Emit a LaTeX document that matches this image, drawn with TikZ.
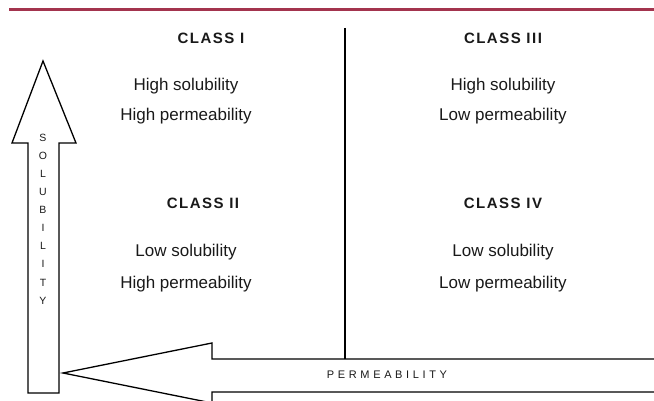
\documentclass[tikz,border=0pt]{standalone}
\usepackage{fontspec}
\setmainfont{Liberation Sans}

\definecolor{rulered}{RGB}{163,52,78}
\definecolor{ink}{RGB}{25,25,25}

\begin{document}
\begin{tikzpicture}[
		x=1pt,y=-1pt,
		every node/.style={inner sep=0pt,text=ink},
		classhead/.style={anchor=base,font=\fontsize{15}{17}\selectfont\bfseries\addfontfeature{LetterSpace=10}},
		prop/.style={anchor=base,font=\fontsize{17}{19}\selectfont},
		axislabel/.style={font=\fontsize{10.5}{18.1}\selectfont,align=center},
		bigarrow/.style={draw=black,line width=1.3pt,fill=white}
		]
		\useasboundingbox (0,0) rectangle (654,401);
		\clip (0,0) rectangle (654,401);
		
		% rule on top
		\draw[rulered,line width=3pt] (9,10) -- (654,10);
		
		% line between the two columns
		\draw[line width=1.2pt] (345,28) -- (345,359);
		
		% solubility arrow, pointing up
		\draw[bigarrow] (28,393) -- (28,143) -- (12,143) -- (43,61) -- (76,143)
		-- (59,143) -- (59,393) -- cycle;
		\node[axislabel] (sol) at (43,219) {S\\O\\L\\U\\B\\I\\L\\I\\T\\Y};
		
		% permeability arrow, pointing left
		\draw[bigarrow] (660,359) -- (212,359) -- (212,343) -- (63,373) -- (212,403)
		-- (212,392) -- (660,392);
		\node[font=\fontsize{11}{13}\selectfont\addfontfeature{LetterSpace=33}] (perm) at (387,375) {PERMEABILITY};
		
		% upper row
		\node[classhead] (c1) at (211,44) {CLASS I};
		\node[prop] (c1s) at (186,91) {High solubility};
		\node[prop] (c1p) at (186,121) {High permeability};
		
		\node[classhead] (c3) at (503,44) {CLASS III};
		\node[prop] (c3s) at (503,91) {High solubility};
		\node[prop] (c3p) at (503,121) {Low permeability};
		
		% lower row
		\node[classhead] (c2) at (203,209) {CLASS II};
		\node[prop] (c2s) at (186,257) {Low solubility};
		\node[prop] (c2p) at (186,288) {High permeability};
		
		\node[classhead] (c4) at (503,209) {CLASS IV};
		\node[prop] (c4s) at (503,257) {Low solubility};
		\node[prop] (c4p) at (503,288) {Low permeability};
\end{tikzpicture}
\end{document}
